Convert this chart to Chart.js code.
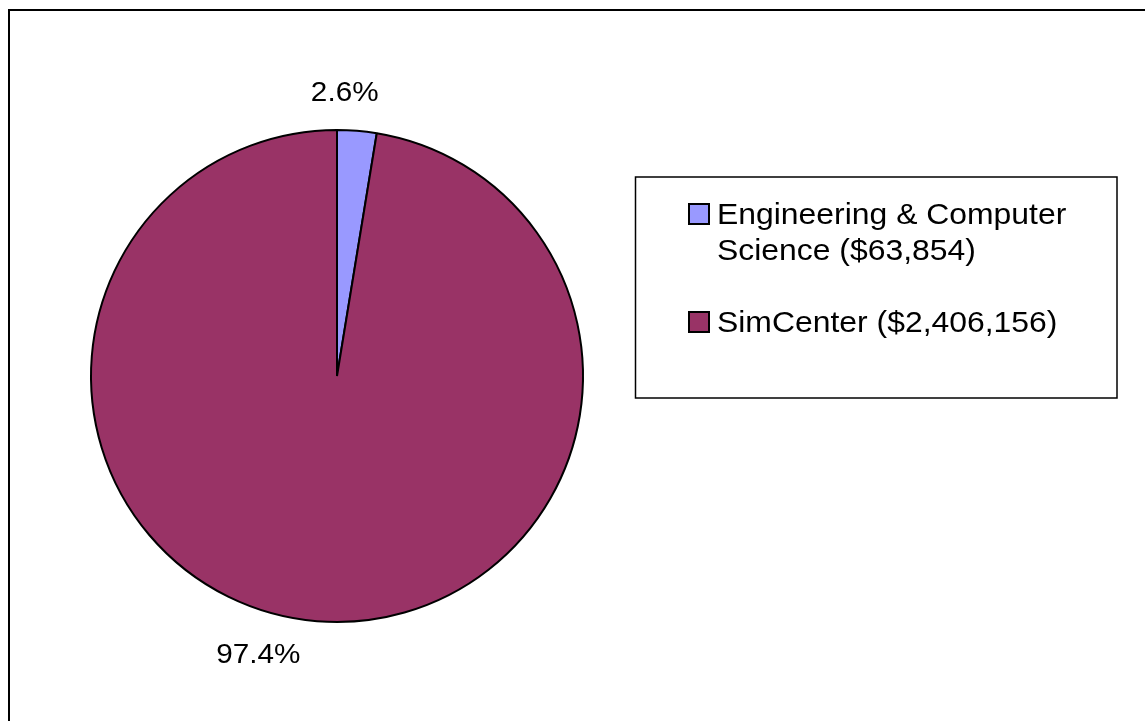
<!DOCTYPE html>
<html>
<head>
<meta charset="utf-8">
<script src="https://cdn.jsdelivr.net/npm/chart.js@4"></script>
<style>
	html, body { margin: 0; padding: 0; background: #fff; }
	#wrap { position: relative; width: 1145px; height: 721px; overflow: hidden; }
</style>
</head>
<body>
<div id="wrap"><canvas id="cntx_funding" width="1145" height="721"></canvas></div>
<script>
const categories = ["Engineering & Computer Science", "SimCenter"];
const amounts = [63854, 2406156];
const sliceColors = ["#9999FF", "#993366"];

const FONT = '"Liberation Sans", Arial, sans-serif';
const STRETCH = 1.1;

// offsets of the percent labels from the radial anchor (Excel-style placement)
const labelShift = [[-15, -5], [-56, -1]];

drawText = (ctx, text, x, y, size, align) => {
	ctx.save();
	ctx.font = size + "px " + FONT;
	ctx.fillStyle = "#000";
	ctx.textBaseline = "alphabetic";
	const w = ctx.measureText(text).width * STRETCH;
	let left = x;
	if (align === "center") left = x - w / 2;
	if (align === "right") left = x - w;
	ctx.translate(left, y);
	ctx.scale(STRETCH, 1);
	ctx.textAlign = "left";
	ctx.fillText(text, 0, 0);
	ctx.restore();
	return w;
};

const extras = {
	id: "extras",
	afterDraw: (chart) => {
		const ctx = chart.ctx;
		// outer frame (runs off the right/bottom of the picture)
		ctx.save();
		ctx.strokeStyle = "#000";
		ctx.lineWidth = 2;
		ctx.strokeRect(9, 10, 1200, 800);
		ctx.restore();

		// percent labels
		const total = amounts.reduce((a, b) => a + b, 0);
		const arcs = chart.getDatasetMeta(0).data;
		arcs.forEach((arc, i) => {
			const mid = (arc.startAngle + arc.endAngle) / 2;
			const r = arc.outerRadius + 34;
			const x = arc.x + Math.cos(mid) * r + labelShift[i][0];
			const y = arc.y + Math.sin(mid) * r + labelShift[i][1] + 9;
			const pct = (amounts[i] / total * 100).toFixed(1) + "%";
			drawText(ctx, pct, x, y, 27, "center");
		});

		// legend box
		ctx.save();
		ctx.strokeStyle = "#000";
		ctx.lineWidth = 1.5;
		ctx.strokeRect(635.5, 177, 481.5, 221);
		ctx.restore();

		let baseline = 224;
		categories.forEach((name, i) => {
			const text = name + " ($" + amounts[i].toLocaleString("en-US") + ")";
			// wrap words
			ctx.font = "29px " + FONT;
			const words = text.split(" ");
			const lines = [];
			let line = "";
			words.forEach((w) => {
				const test = line ? line + " " + w : w;
				if (ctx.measureText(test).width * STRETCH > 370 && line) {
					lines.push(line);
					line = w;
				} else {
					line = test;
				}
			});
			lines.push(line);

			ctx.save();
			ctx.fillStyle = sliceColors[i];
			ctx.strokeStyle = "#000";
			ctx.lineWidth = 2;
			ctx.fillRect(689, baseline - 20, 20, 20);
			ctx.strokeRect(689, baseline - 20, 20, 20);
			ctx.restore();

			lines.forEach((l, k) => {
				drawText(ctx, l, 717, baseline + k * 36, 29, "left");
			});
			baseline += (lines.length - 1) * 36 + 72;
		});
	},
};

const cntx = document.querySelector("#cntx_funding");
new Chart(cntx, {
	type: "pie",
	data: {
		labels: categories,
		datasets: [
			{
				data: amounts,
				backgroundColor: sliceColors,
				borderColor: "#000",
				borderWidth: 2,
			},
		],
	},
	options: {
		responsive: false,
		animation: false,
		layout: {
			padding: { left: 90, right: 561, top: 129, bottom: 98 },
		},
		plugins: {
			legend: { display: false },
			tooltip: { enabled: false },
		},
	},
	plugins: [extras],
});
</script>
</body>
</html>
